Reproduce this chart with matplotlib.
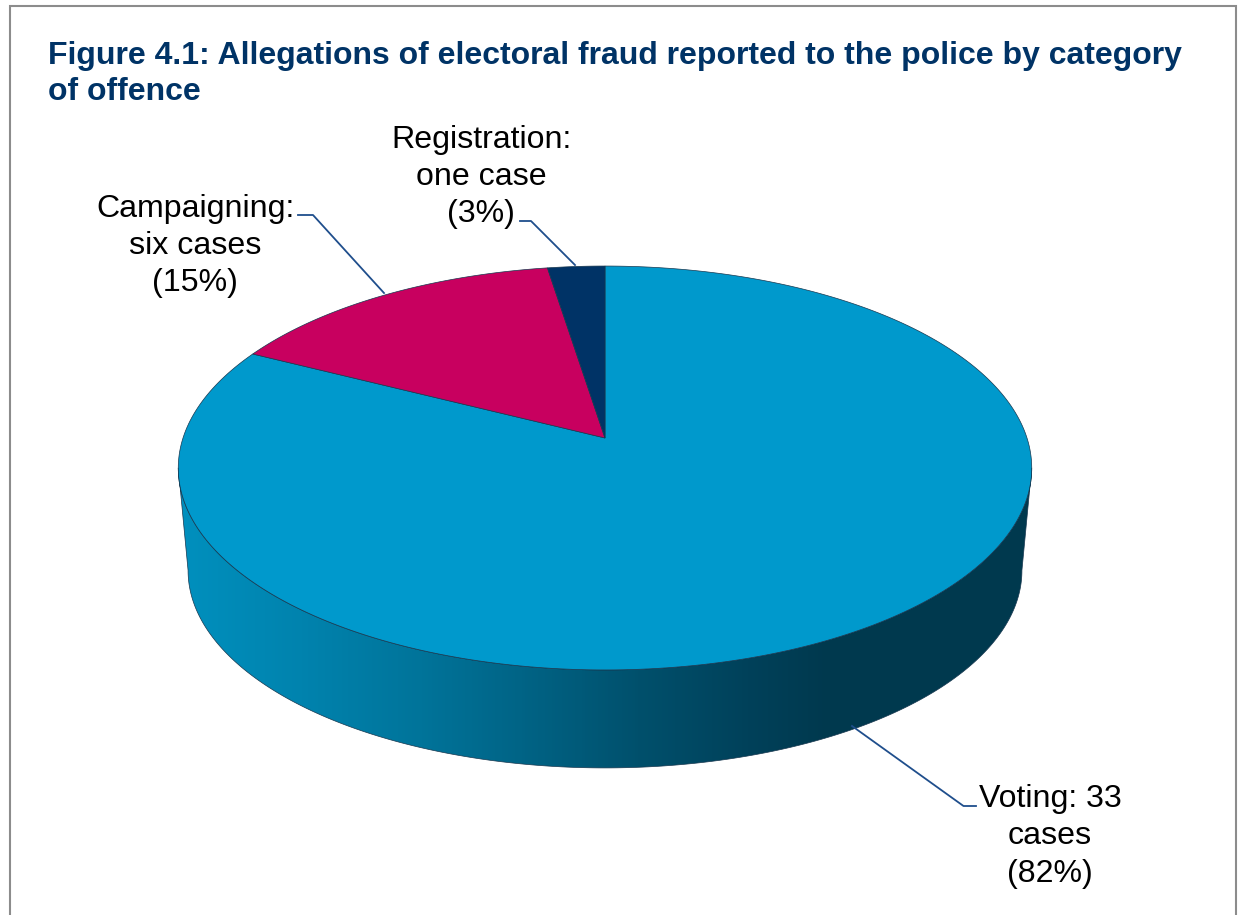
import numpy as np
from matplotlib import pyplot as plt
from matplotlib.colors import LinearSegmentedColormap
from matplotlib.patches import Polygon

plt.rcParams['font.family'] = ['Liberation Sans', 'DejaVu Sans']

title = "Figure 4.1: Allegations of electoral fraud reported to the police by category\nof offence"

# clockwise from twelve o'clock is voting, then going round to campaigning, registration
categories = ["Voting", "Campaigning", "Registration"]
cases = [33, 6, 1]
labels = ["Voting: 33\ncases\n(82%)", "Campaigning:\nsix cases\n(15%)", "Registration:\none case\n(3%)"]
colors = ["#0099CC", "#C8005F", "#003366"]

# gradient on the side wall
wall_x = [178, 300, 420, 520, 640, 750, 830, 1032]
wall_colors = ["#0090BE", "#0083AE", "#00749A", "#006486", "#00506C", "#00415A", "#00394E", "#00394E"]


def project(theta, scale=1.0, cy=438.0):
    # pie is a circle seen in perspective, theta clockwise from top
    k = 0.1485
    X = np.sin(theta)
    Y = np.cos(theta)
    w = 1 + k * Y
    return 605 + scale * 422 * X / w, cy - scale * 197.5 * Y / w


def arc(a, b, n=300):
    return np.column_stack(project(np.linspace(a, b, n)))


fig = plt.figure(figsize=(12.4, 9.15), dpi=100)
ax = fig.add_axes([0, 0, 1, 1])
ax.set_xlim(0, 1240)
ax.set_ylim(915, 0)
ax.axis("off")

# outer box, no bottom edge
ax.plot([9.5, 9.5, 1236, 1236], [915, 5.5, 5.5, 915], color="#8C8C8C", lw=1.5, solid_joinstyle="miter")

ax.text(48, 74, title, fontsize=23.08, fontweight="bold", color="#003366", ha="left", va="center",
        linespacing=1.27)

# side wall
full = np.linspace(0, 2 * np.pi, 1441)
tx, ty = project(full)
right = full[np.argmax(tx)]
left = full[np.argmin(tx)]
front = np.linspace(right, left, 500)
tx2, ty2 = project(front)
bx2, by2 = project(front, 0.977, 541.3)
wall = np.column_stack([np.r_[tx2, bx2[::-1]], np.r_[ty2, by2[::-1]]])
poly = Polygon(wall, closed=True, facecolor="none", edgecolor="#17374F", lw=0.5, zorder=2)
ax.add_patch(poly)
stops = [(x - wall_x[0]) / (wall_x[-1] - wall_x[0]) for x in wall_x]
cmap = LinearSegmentedColormap.from_list("wall", list(zip(stops, wall_colors)))
im = ax.imshow(np.linspace(0, 1, 854).reshape(1, -1), cmap=cmap, aspect="auto", zorder=1,
               extent=(178, 1032, 800, 400))
im.set_clip_path(poly)
ax.set_xlim(0, 1240)
ax.set_ylim(915, 0)

# top slices
shares = np.array(cases) / sum(cases)
edges = np.r_[0, np.cumsum(shares)] * 2 * np.pi
for i in range(len(cases)):
    pts = np.vstack([[605, 438], arc(edges[i], edges[i + 1])])
    ax.add_patch(Polygon(pts, closed=True, facecolor=colors[i], edgecolor="#17374F", lw=0.5, zorder=3))

# leader lines
leaders = [
    ([852, 963.5, 976], [726, 806, 806]),
    ([298, 313, 384], [215, 215, 293]),
    ([520, 531, 575], [221, 221, 265]),
]
for lx, ly in leaders:
    ax.plot(lx, ly, color="#1F4E8C", lw=1.3, zorder=4)

label_x = [1050, 195, 481]
label_y = [836.5, 246, 177]
for i in range(len(labels)):
    ax.text(label_x[i], label_y[i], labels[i], fontsize=23.1, color="black", ha="center", va="center",
            linespacing=1.32, zorder=5)

fig.savefig("out.png", dpi=100)
